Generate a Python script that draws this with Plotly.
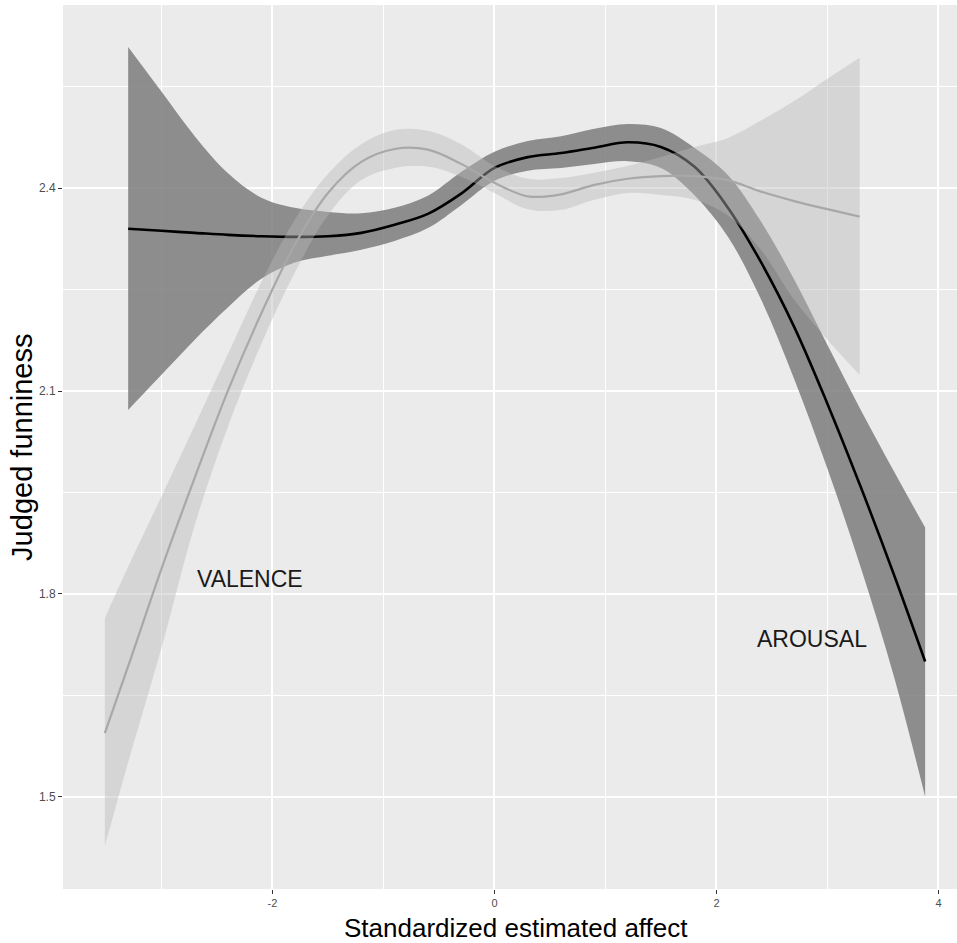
import plotly.graph_objects as go

# ---- data ----
arousal_x = [-3.3, -3.0, -2.7, -2.4, -2.1, -1.8, -1.5, -1.2, -0.9, -0.6, -0.3, 0.0,
             0.3, 0.6, 0.9, 1.2, 1.5, 1.8, 2.1, 2.4, 2.7, 3.0, 3.3, 3.6, 3.88]
arousal_fit = [2.340, 2.337, 2.334, 2.331, 2.329, 2.328, 2.329, 2.334, 2.346, 2.362, 2.392, 2.430,
               2.446, 2.452, 2.460, 2.468, 2.461, 2.432, 2.372, 2.291, 2.195, 2.081, 1.958, 1.828, 1.700]
arousal_upper = [2.609, 2.543, 2.477, 2.422, 2.386, 2.371, 2.365, 2.363, 2.371, 2.389, 2.424, 2.454,
                 2.470, 2.477, 2.488, 2.495, 2.489, 2.460, 2.420, 2.351, 2.265, 2.168, 2.072, 1.981, 1.898]
arousal_lower = [2.072, 2.124, 2.176, 2.224, 2.266, 2.290, 2.300, 2.309, 2.322, 2.341, 2.375, 2.411,
                 2.426, 2.430, 2.436, 2.440, 2.430, 2.390, 2.329, 2.236, 2.118, 1.985, 1.839, 1.677, 1.500]

valence_x = [-3.51, -3.3, -3.0, -2.7, -2.4, -2.1, -1.8, -1.5, -1.2, -0.9, -0.6, -0.3, 0.0,
             0.3, 0.6, 0.9, 1.2, 1.5, 1.8, 2.1, 2.4, 2.7, 3.0, 3.29]
valence_fit = [1.594, 1.693, 1.837, 1.972, 2.101, 2.215, 2.316, 2.393, 2.439, 2.458, 2.457, 2.436, 2.408,
               2.388, 2.391, 2.405, 2.414, 2.418, 2.418, 2.412, 2.395, 2.381, 2.369, 2.358]
valence_upper = [1.764, 1.840, 1.944, 2.049, 2.155, 2.261, 2.353, 2.421, 2.465, 2.486, 2.485, 2.465, 2.433,
                 2.414, 2.415, 2.423, 2.433, 2.446, 2.461, 2.474, 2.500, 2.529, 2.562, 2.593]
valence_lower = [1.427, 1.551, 1.720, 1.902, 2.048, 2.170, 2.275, 2.360, 2.412, 2.430, 2.432, 2.417, 2.393,
                 2.369, 2.368, 2.383, 2.393, 2.390, 2.383, 2.360, 2.309, 2.235, 2.176, 2.124]

x_ticks = [-2, 0, 2, 4]
x_ticklabels = ["-2", "0", "2", "4"]
y_ticks = [1.5, 1.8, 2.1, 2.4]
y_ticklabels = ["1.5", "1.8", "2.1", "2.4"]
x_minor = [-3, -1, 1, 3]
y_minor = [1.65, 1.95, 2.25, 2.55]

labels = ["VALENCE", "AROUSAL"]
label_x = [-2.20, 2.86]
label_y = [1.822, 1.733]

x_title = "Standardized estimated affect"
y_title = "Judged funniness"

REG = "Liberation Sans, Arial, sans-serif"

fig = go.Figure()

# Arousal band + line
fig.add_trace(go.Scatter(x=arousal_x, y=arousal_upper, mode="lines",
                         line=dict(width=0, shape="spline", color="rgba(0,0,0,0)"),
                         hoverinfo="skip", showlegend=False))
fig.add_trace(go.Scatter(x=arousal_x, y=arousal_lower, mode="lines", fill="tonexty",
                         fillcolor="rgba(124,124,124,0.85)",
                         line=dict(width=0, shape="spline", color="rgba(0,0,0,0)"),
                         hoverinfo="skip", showlegend=False))
fig.add_trace(go.Scatter(x=arousal_x, y=arousal_fit, mode="lines",
                         line=dict(width=2.6, shape="spline", color="black"),
                         showlegend=False))

# Valence band + line
fig.add_trace(go.Scatter(x=valence_x, y=valence_upper, mode="lines",
                         line=dict(width=0, shape="spline", color="rgba(0,0,0,0)"),
                         hoverinfo="skip", showlegend=False))
fig.add_trace(go.Scatter(x=valence_x, y=valence_lower, mode="lines", fill="tonexty",
                         fillcolor="rgba(184,184,184,0.43)",
                         line=dict(width=0, shape="spline", color="rgba(0,0,0,0)"),
                         hoverinfo="skip", showlegend=False))
fig.add_trace(go.Scatter(x=valence_x, y=valence_fit, mode="lines",
                         line=dict(width=2.2, shape="spline", color="#A8A8A8"),
                         showlegend=False))

annotations = []
for t, lx, ly in zip(labels, label_x, label_y):
    annotations.append(dict(x=lx, y=ly, xref="x", yref="y", text=t, showarrow=False,
                            font=dict(family=REG, size=23, color="#1a1a1a"),
                            xanchor="center", yanchor="middle"))
annotations.append(dict(x=0.5067, y=-0.044, xref="paper", yref="paper", text=x_title,
                        showarrow=False, xanchor="center", yanchor="middle",
                        font=dict(family=REG, size=26, color="black")))
annotations.append(dict(x=-0.046, y=0.5, xref="paper", yref="paper", text=y_title,
                        showarrow=False, xanchor="center", yanchor="middle", textangle=-90,
                        font=dict(family=REG, size=29, color="black")))

fig.update_layout(
    width=957, height=943,
    margin=dict(l=63, r=0, t=5, b=54),
    paper_bgcolor="white",
    plot_bgcolor="#EBEBEB",
    showlegend=False,
    annotations=annotations,
    xaxis=dict(range=[-3.887, 4.167], tickvals=x_ticks, ticktext=x_ticklabels,
               showgrid=True, gridcolor="white", gridwidth=1.6, zeroline=False,
               ticks="outside", ticklen=4, tickcolor="#333333", tickwidth=1,
               tickfont=dict(family=REG, size=11, color="#4D4D4D"),
               minor=dict(tickvals=x_minor, showgrid=True, gridcolor="white", gridwidth=0.8),
               showline=False, fixedrange=True),
    yaxis=dict(range=[1.3635, 2.671], tickvals=y_ticks, ticktext=y_ticklabels,
               showgrid=True, gridcolor="white", gridwidth=1.6, zeroline=False,
               ticks="outside", ticklen=4, tickcolor="#333333", tickwidth=1,
               tickfont=dict(family=REG, size=12, color="#4D4D4D"),
               minor=dict(tickvals=y_minor, showgrid=True, gridcolor="white", gridwidth=0.8),
               showline=False, fixedrange=True),
)

fig.write_html("out.html")
